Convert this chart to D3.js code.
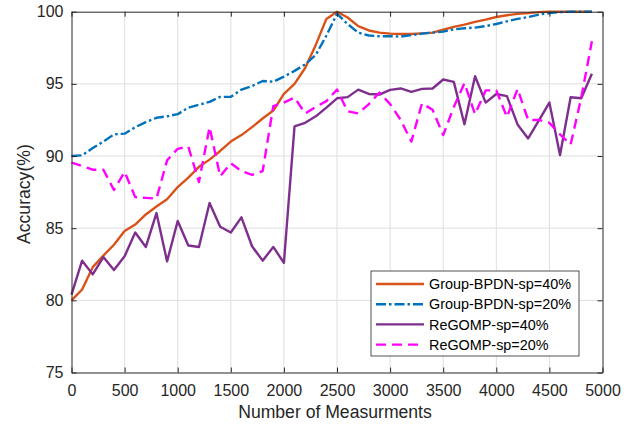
<!DOCTYPE html>
<html>
<head>
<meta charset="utf-8">
<script src="https://cdn.jsdelivr.net/npm/d3@7"></script>
<style>
  body { margin: 0; background: #fff; }
  svg { display: block; font-family: "Liberation Sans", Arial, sans-serif; }
</style>
</head>
<body>
<div id="chart"></div>
<script>
// number of measurements (x)
var measurements = [0, 100, 200, 300, 400, 500, 600, 700, 800, 900,
  1000, 1100, 1200, 1300, 1400, 1500, 1600, 1700, 1800, 1900,
  2000, 2100, 2200, 2300, 2400, 2500, 2600, 2700, 2800, 2900,
  3000, 3100, 3200, 3300, 3400, 3500, 3600, 3700, 3800, 3900,
  4000, 4100, 4200, 4300, 4400, 4500, 4600, 4700, 4800, 4900];

// accuracy (%)
var bpdn40 = [80.0, 80.75, 82.3, 83.1, 83.85, 84.8, 85.25, 85.95, 86.5, 87.0,
  87.85, 88.5, 89.25, 89.75, 90.35, 91.0, 91.45, 92.0, 92.6, 93.15,
  94.3, 95.0, 96.1, 97.7, 99.5, 100, 99.6, 99.0, 98.7, 98.55,
  98.48, 98.45, 98.45, 98.5, 98.55, 98.75, 98.95, 99.1, 99.3, 99.45,
  99.63, 99.75, 99.85, 99.9, 99.97, 100, 100, 100, 100, 100];

var bpdn20 = [90.0, 90.05, 90.55, 91.0, 91.5, 91.55, 92.0, 92.35, 92.65, 92.75,
  92.9, 93.35, 93.55, 93.75, 94.1, 94.1, 94.6, 94.85, 95.2, 95.15,
  95.5, 95.9, 96.35, 97.0, 98.35, 99.85, 99.15, 98.55, 98.35, 98.3,
  98.3, 98.28, 98.38, 98.48, 98.55, 98.62, 98.78, 98.85, 98.9, 99.0,
  99.15, 99.33, 99.5, 99.63, 99.8, 99.9, 99.97, 100, 100, 100];

var regomp40 = [80.4, 82.75, 81.8, 83.0, 82.1, 83.05, 84.7, 83.7, 86.05, 82.7,
  85.5, 83.8, 83.7, 86.75, 85.1, 84.7, 85.75, 83.75, 82.75, 83.7,
  82.6, 92.05, 92.3, 92.75, 93.35, 94.0, 94.08, 94.6, 94.3, 94.26,
  94.58, 94.68, 94.45, 94.65, 94.68, 95.3, 95.14, 92.2, 95.53, 93.7,
  94.3, 94.15, 92.19, 91.22, 92.46, 93.7, 90.07, 94.07, 94.0, 95.7];

var regomp20 = [89.55, 89.3, 89.05, 89.05, 87.65, 88.9, 87.15, 87.1, 87.05, 89.7,
  90.5, 90.65, 88.2, 92.0, 88.6, 89.5, 88.95, 88.7, 88.95, 93.45,
  93.7, 94.05, 92.95, 93.4, 93.8, 94.6, 93.1, 92.95, 93.6, 94.4,
  93.6, 92.5, 91.0, 93.65, 93.2, 91.45, 93.4, 95.05, 92.9, 94.55,
  94.55, 92.7, 94.65, 92.5, 92.5, 92.3, 91.5, 90.8, 94.05, 97.95];

var seriesNames = ["Group-BPDN-sp=40%", "Group-BPDN-sp=20%", "ReGOMP-sp=40%", "ReGOMP-sp=20%"];
var xTicks = [0, 500, 1000, 1500, 2000, 2500, 3000, 3500, 4000, 4500, 5000];
var yTicks = [75, 80, 85, 90, 95, 100];

function drawChart() {
  var w = 634, h = 428;
  var pLeft = 71.5, pRight = 602.5, pTop = 11.7, pBottom = 372.5;
  var axisCol = "#262626";

  var series = [
    { name: seriesNames[0], values: bpdn40, color: "#D95319", dash: null },
    { name: seriesNames[1], values: bpdn20, color: "#0072BD", dash: "10,3,2.5,3" },
    { name: seriesNames[2], values: regomp40, color: "#7E2F8E", dash: null },
    { name: seriesNames[3], values: regomp20, color: "#FF00FF", dash: "10,6" }
  ];

  var svg = d3.select("#chart").append("svg")
    .attr("width", w).attr("height", h);

  var x = d3.scaleLinear().domain([0, 5000]).range([pLeft, pRight]);
  var y = d3.scaleLinear().domain([75, 100]).range([pBottom, pTop]);

  // grid
  var grid = svg.append("g").attr("class", "grid");
  grid.selectAll("line.gx").data(xTicks.slice(1, -1)).enter().append("line")
    .attr("x1", function(d) { return x(d); }).attr("x2", function(d) { return x(d); })
    .attr("y1", pTop).attr("y2", pBottom)
    .attr("stroke", "#dedede").attr("stroke-width", 1);
  grid.selectAll("line.gy").data(yTicks.slice(1, -1)).enter().append("line")
    .attr("y1", function(d) { return y(d); }).attr("y2", function(d) { return y(d); })
    .attr("x1", pLeft).attr("x2", pRight)
    .attr("stroke", "#dedede").attr("stroke-width", 1);

  // lines
  var line = d3.line()
    .x(function(d, i) { return x(measurements[i]); })
    .y(function(d) { return y(d); });

  series.forEach(function(s) {
    svg.append("path")
      .datum(s.values)
      .attr("fill", "none")
      .attr("stroke", s.color)
      .attr("stroke-width", 2.4)
      .attr("stroke-linejoin", "round")
      .attr("stroke-dasharray", s.dash)
      .attr("d", line);
  });

  // axes
  function styleAxis(g) {
    g.select(".domain").attr("stroke", axisCol).attr("stroke-width", 1);
    g.selectAll(".tick line").attr("stroke", axisCol);
    g.selectAll(".tick text").attr("fill", axisCol).attr("font-size", 16)
      .attr("font-family", "'Liberation Sans', Arial, sans-serif");
  }
  var fmt = d3.format("d");

  svg.append("g").attr("transform", "translate(0," + pBottom + ")")
    .call(d3.axisBottom(x).tickValues(xTicks).tickFormat(fmt).tickSizeInner(-5).tickSizeOuter(0).tickPadding(12.6))
    .call(styleAxis);
  svg.append("g").attr("transform", "translate(0," + pTop + ")")
    .call(d3.axisTop(x).tickValues(xTicks).tickSizeInner(-5).tickSizeOuter(0).tickFormat(""))
    .call(styleAxis);
  svg.append("g").attr("transform", "translate(" + pLeft + ",0)")
    .call(d3.axisLeft(y).tickValues(yTicks).tickFormat(fmt).tickSizeInner(-5).tickSizeOuter(0).tickPadding(8))
    .call(styleAxis);
  svg.append("g").attr("transform", "translate(" + pRight + ",0)")
    .call(d3.axisRight(y).tickValues(yTicks).tickSizeInner(-5).tickSizeOuter(0).tickFormat(""))
    .call(styleAxis);

  // axis labels
  svg.append("text")
    .attr("x", (pLeft + pRight) / 2 - 2).attr("y", 418)
    .attr("text-anchor", "middle").attr("font-size", 17.6).attr("fill", axisCol)
    .text("Number of Measurments");
  svg.append("text")
    .attr("transform", "translate(30," + ((pTop + pBottom) / 2 + 2) + ") rotate(-90)")
    .attr("text-anchor", "middle").attr("font-size", 17.6).attr("fill", axisCol)
    .text("Accuracy(%)");

  // legend
  var lg = svg.append("g").attr("transform", "translate(371,271)");
  lg.append("rect").attr("width", 208).attr("height", 85)
    .attr("fill", "#fff").attr("stroke", axisCol).attr("stroke-width", 0.8);
  series.forEach(function(s, i) {
    var cy = 13 + i * 20.2;
    lg.append("line").attr("x1", 5).attr("x2", 53).attr("y1", cy).attr("y2", cy)
      .attr("stroke", s.color).attr("stroke-width", 2.4)
      .attr("stroke-dasharray", s.dash);
    lg.append("text").attr("x", 58).attr("y", cy + 5.2)
      .attr("font-size", 14.4).attr("fill", "#000")
      .text(s.name);
  });
}
drawChart();
</script>
</body>
</html>
